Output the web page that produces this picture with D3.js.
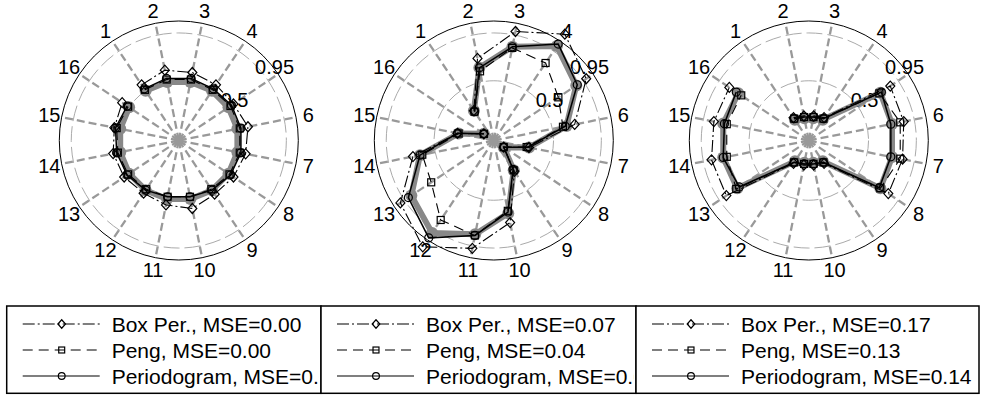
<!DOCTYPE html>
<html>
<head>
<meta charset="utf-8">
<script src="https://cdn.jsdelivr.net/npm/d3@7"></script>
<style>
  body { margin: 0; background: #fff; }
  svg { display: block; font-family: "Liberation Sans", Arial, sans-serif; }
</style>
</head>
<body>
<div id="chart"></div>
<script>
// spoke labels, 16 directions
const spokes = ["1","2","3","4","5","6","7","8","9","10","11","12","13","14","15","16"];
const ringTicks = [0.5, 0.9];

// panel 1
const true1 = [0.50,0.50,0.50,0.50,0.50,0.50,0.50,0.50,0.50,0.50,0.50,0.50,0.50,0.50,0.50,0.50];
const box1  = [0.56,0.60,0.58,0.56,0.55,0.59,0.57,0.55,0.54,0.58,0.55,0.53,0.55,0.56,0.55,0.57];
const peng1 = [0.51,0.52,0.52,0.51,0.52,0.52,0.52,0.51,0.49,0.48,0.48,0.49,0.51,0.52,0.53,0.51];
const peri1 = [0.52,0.53,0.53,0.52,0.53,0.53,0.53,0.52,0.50,0.48,0.48,0.50,0.52,0.53,0.54,0.52];

// panel 2
const true2 = [0.30,0.62,0.80,0.95,0.83,0.62,0.30,0.10,0.30,0.62,0.80,0.93,0.83,0.63,0.30,0.10];
const box2  = [0.30,0.70,0.93,1.07,0.93,0.69,0.30,0.10,0.31,0.70,0.92,1.07,0.94,0.69,0.31,0.10];
const peng2 = [0.29,0.59,0.79,0.78,0.65,0.59,0.28,0.10,0.30,0.60,0.81,0.80,0.63,0.61,0.30,0.10];
const peri2 = [0.29,0.62,0.80,0.97,0.84,0.61,0.29,0.10,0.29,0.61,0.81,0.98,0.86,0.63,0.31,0.10];

// panel 3
const true3 = [0.21,0.19,0.19,0.21,0.72,0.71,0.71,0.72,0.21,0.19,0.19,0.21,0.72,0.73,0.73,0.71];
const box3  = [0.23,0.21,0.21,0.23,0.82,0.81,0.80,0.80,0.23,0.21,0.21,0.23,0.83,0.83,0.81,0.80];
const peng3 = [0.22,0.20,0.20,0.22,0.71,0.78,0.78,0.72,0.22,0.20,0.20,0.22,0.73,0.70,0.70,0.68];
const peri3 = [0.22,0.20,0.20,0.22,0.73,0.70,0.70,0.71,0.22,0.20,0.20,0.22,0.70,0.73,0.72,0.73];

// legend texts
const legend1 = ["Box Per., MSE=0.00", "Peng, MSE=0.00", "Periodogram, MSE=0.00"];
const legend2 = ["Box Per., MSE=0.07", "Peng, MSE=0.04", "Periodogram, MSE=0.01"];
const legend3 = ["Box Per., MSE=0.17", "Peng, MSE=0.13", "Periodogram, MSE=0.14"];

const panels = [
  { cx: 178.8, truth: true1, series: [box1, peng1, peri1], legend: legend1, lx: 6.7, lw: 314.3 },
  { cx: 493.8, truth: true2, series: [box2, peng2, peri2], legend: legend2, lx: 321, lw: 315 },
  { cx: 808.8, truth: true3, series: [box3, peng3, peri3], legend: legend3, lx: 636, lw: 343 }
];

const styles = [
  { dash: "12,3,2,3", marker: "diamond" },
  { dash: "10,6", marker: "square" },
  { dash: null, marker: "circle" }
];

const width = 981, height = 398;
const cy = 140.5, R = 119.5;

const svg = d3.select("#chart").append("svg")
  .attr("width", width)
  .attr("height", height);

const r = d3.scaleLinear().domain([0, 1]).range([0, R]);
// spoke k sits (k - 2.5) * 22.5 degrees clockwise from 12 o'clock
const angle = d3.scaleLinear().domain([1, 17]).range([-33.75 * Math.PI / 180, 326.25 * Math.PI / 180]);

function drawMarker(g, type, x, y, small) {
  const k = small ? 0.85 : 1;
  if (type === "diamond") {
    g.append("path")
      .attr("d", `M${x},${y - 5 * k}L${x + 4.5 * k},${y}L${x},${y + 5 * k}L${x - 4.5 * k},${y}Z`)
      .attr("fill", "none").attr("stroke", "#000").attr("stroke-width", 1.2);
  } else if (type === "square") {
    g.append("rect")
      .attr("x", x - 3.5 * k).attr("y", y - 3.5 * k).attr("width", 7 * k).attr("height", 7 * k)
      .attr("fill", "none").attr("stroke", "#000").attr("stroke-width", 1.2);
  } else {
    g.append("circle")
      .attr("cx", x).attr("cy", y).attr("r", 4 * k)
      .attr("fill", "none").attr("stroke", "#000").attr("stroke-width", 1.2);
  }
}

function pt(v, i) {
  const a = angle(i + 1);
  return [r(v) * Math.sin(a), -r(v) * Math.cos(a)];
}

panels.forEach((p, pi) => {
  const g = svg.append("g").attr("transform", `translate(${p.cx},${cy})`);

  // grid rings
  g.selectAll("circle.ring")
    .data(ringTicks)
    .enter().append("circle")
    .attr("r", d => r(d))
    .attr("fill", "none")
    .attr("stroke", "#aaa")
    .attr("stroke-width", 1)
    .attr("stroke-dasharray", "16,5");

  // spokes
  g.selectAll("line.spoke")
    .data(spokes)
    .enter().append("line")
    .attr("x1", 0).attr("y1", 0)
    .attr("x2", (d, i) => r(1) * Math.sin(angle(i + 1)))
    .attr("y2", (d, i) => -r(1) * Math.cos(angle(i + 1)))
    .attr("stroke", "#999")
    .attr("stroke-width", 2.3)
    .attr("stroke-dasharray", "8,4");

  g.append("circle").attr("r", 4).attr("fill", "#999");

  // outer circle
  g.append("circle")
    .attr("r", r(1))
    .attr("fill", "none")
    .attr("stroke", "#000")
    .attr("stroke-width", 1);

  // ring labels
  const ra = 44 * Math.PI / 180;
  g.selectAll("text.rtick")
    .data(ringTicks)
    .enter().append("text")
    .attr("x", d => (r(d) - 1.5) * Math.cos(ra))
    .attr("y", d => -(r(d) - 1.5) * Math.sin(ra))
    .attr("dominant-baseline", "central")
    .attr("font-size", 20)
    .text(d => d);

  // spoke labels
  g.selectAll("text.spoke")
    .data(spokes)
    .enter().append("text")
    .attr("x", (d, i) => 132 * Math.sin(angle(i + 1)))
    .attr("y", (d, i) => -132 * Math.cos(angle(i + 1)))
    .attr("text-anchor", "middle")
    .attr("dominant-baseline", "central")
    .attr("font-size", 20)
    .text(d => d);

  // true profile, thick grey
  const line = d3.lineRadial().angle((d, i) => angle(i + 1)).radius(d => r(d));
  g.append("path")
    .attr("d", line(p.truth))
    .attr("fill", "none")
    .attr("stroke", "#888")
    .attr("stroke-width", 6)
    .attr("stroke-linejoin", "round");
  p.truth.forEach((v, i) => {
    const [x, y] = pt(v, i);
    g.append("circle").attr("cx", x).attr("cy", y).attr("r", 6).attr("fill", "#888");
  });

  // estimates
  p.series.forEach((s, si) => {
    const st = styles[si];
    g.append("path")
      .attr("d", line(s))
      .attr("fill", "none")
      .attr("stroke", "#000")
      .attr("stroke-width", si === 2 ? 1.5 : 1.1)
      .attr("stroke-dasharray", st.dash);
    s.forEach((v, i) => {
      const [x, y] = pt(v, i);
      drawMarker(g, st.marker, x, y);
    });
  });

  // legend box
  const clipId = "clip" + pi;
  svg.append("clipPath").attr("id", clipId)
    .append("rect").attr("x", p.lx).attr("y", 306).attr("width", p.lw - 2.5).attr("height", 87.3);
  const lg = svg.append("g").attr("clip-path", `url(#${clipId})`);
  lg.append("rect")
    .attr("x", p.lx).attr("y", 306).attr("width", p.lw).attr("height", 87.3)
    .attr("fill", "#fff");
  p.legend.forEach((t, li) => {
    const y = 324 + li * 26;
    const st = styles[li];
    lg.append("line")
      .attr("x1", p.lx + 16).attr("x2", p.lx + 93)
      .attr("y1", y).attr("y2", y)
      .attr("stroke", "#000").attr("stroke-width", 1.2)
      .attr("stroke-dasharray", st.dash);
    drawMarker(lg, st.marker, p.lx + 55, y, true);
    lg.append("text")
      .attr("x", p.lx + 105).attr("y", y)
      .attr("dominant-baseline", "central")
      .attr("font-size", 21)
      .text(t);
  });
  svg.append("rect")
    .attr("x", p.lx).attr("y", 306).attr("width", p.lw).attr("height", 87.3)
    .attr("fill", "none").attr("stroke", "#000").attr("stroke-width", 1.5);
});
</script>
</body>
</html>
